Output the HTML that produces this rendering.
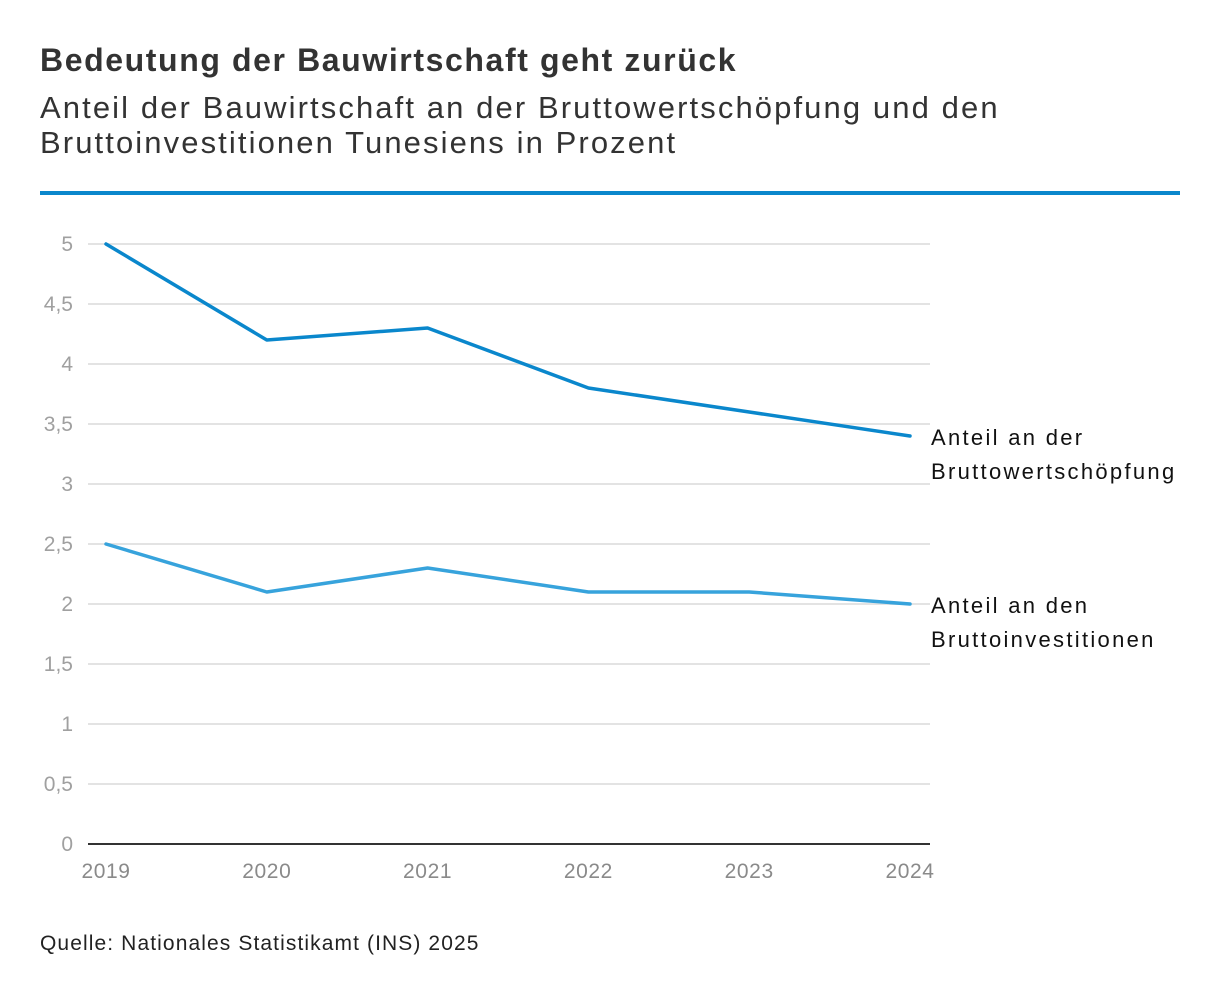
<!DOCTYPE html>
<html><head><meta charset="utf-8"><style>
body{margin:0;background:#fff;font-family:"Liberation Sans","DejaVu Sans",sans-serif;}
#wrap{position:relative;width:1220px;height:1002px;overflow:hidden;}
h1{position:absolute;left:40px;top:42px;margin:0;font-size:32px;letter-spacing:1.6px;font-weight:bold;color:#333;}
h2{position:absolute;left:40px;top:90px;margin:0;font-size:31px;letter-spacing:2.1px;font-weight:normal;color:#333;line-height:35px;}
#rule{position:absolute;left:40px;top:191px;width:1140px;height:4px;background:#0a87cc;}
#src{position:absolute;left:40px;top:932px;font-size:21px;letter-spacing:1.1px;color:#222;}
svg{position:absolute;left:0;top:0;}
</style></head><body>
<div id="wrap">
<h1>Bedeutung der Bauwirtschaft geht zurück</h1>
<h2>Anteil der Bauwirtschaft an der Bruttowertschöpfung und den<br>Bruttoinvestitionen Tunesiens in Prozent</h2>
<div id="rule"></div>
<svg id="chart" width="1220" height="1002"></svg>
<div id="src">Quelle: Nationales Statistikamt (INS) 2025</div>
</div>
<script>
const years = ["2019","2020","2021","2022","2023","2024"];
const bws = [5, 4.2, 4.3, 3.8, 3.6, 3.4];
const inv = [2.5, 2.1, 2.3, 2.1, 2.1, 2.0];
const yTicks = [0,0.5,1,1.5,2,2.5,3,3.5,4,4.5,5];
const yTickLabels = ["0","0,5","1","1,5","2","2,5","3","3,5","4","4,5","5"];

const NS="http://www.w3.org/2000/svg";
const svg=document.getElementById('chart');
const x0=106,x1=910,y0=844,y1=244,yMax=5;
const xs=i=>x0+(x1-x0)*i/(years.length-1);
const ys=v=>y0-(y0-y1)*v/yMax;
function mk(t,a){const e=document.createElementNS(NS,t);for(const k in a)e.setAttribute(k,a[k]);svg.appendChild(e);return e;}
yTicks.forEach((v,i)=>{
  if(v>0){const g=mk('line',{x1:88,x2:930,y1:ys(v),y2:ys(v),stroke:'#e3e3e3','stroke-width':2});
  
  }
  const t=mk('text',{x:73,y:ys(v)+7,'text-anchor':'end','font-size':21,fill:'#a0a0a0'});
  t.textContent=yTickLabels[i];
  
  
});
const ax=mk('line',{x1:88,x2:930,y1:y0,y2:y0,stroke:'#333','stroke-width':2});


years.forEach((y,i)=>{
  const t=mk('text',{x:xs(i),y:878,'text-anchor':'middle','font-size':21,'letter-spacing':0.6,fill:'#8a8a8a'});
  t.textContent=y;
  
  
});
function series(d,col,name,labels){
  const p=mk('polyline',{points:d.map((v,i)=>xs(i)+','+ys(v)).join(' '),fill:'none',stroke:col,'stroke-width':3.5,'stroke-linejoin':'round','stroke-linecap':'round'});
  
  
  const ly=ys(d[d.length-1]);
  labels.forEach((l,k)=>{
    const t=mk('text',{x:931,y:ly+9+k*34,'font-size':22,'letter-spacing':2.3,fill:'#111'});
    t.textContent=l;
    
    
  });
}
series(bws,'#0a87cc','line-bruttowertschoepfung',['Anteil an der','Bruttowertschöpfung']);
series(inv,'#37a3dc','line-bruttoinvestitionen',['Anteil an den','Bruttoinvestitionen']);
</script>
</body></html>
